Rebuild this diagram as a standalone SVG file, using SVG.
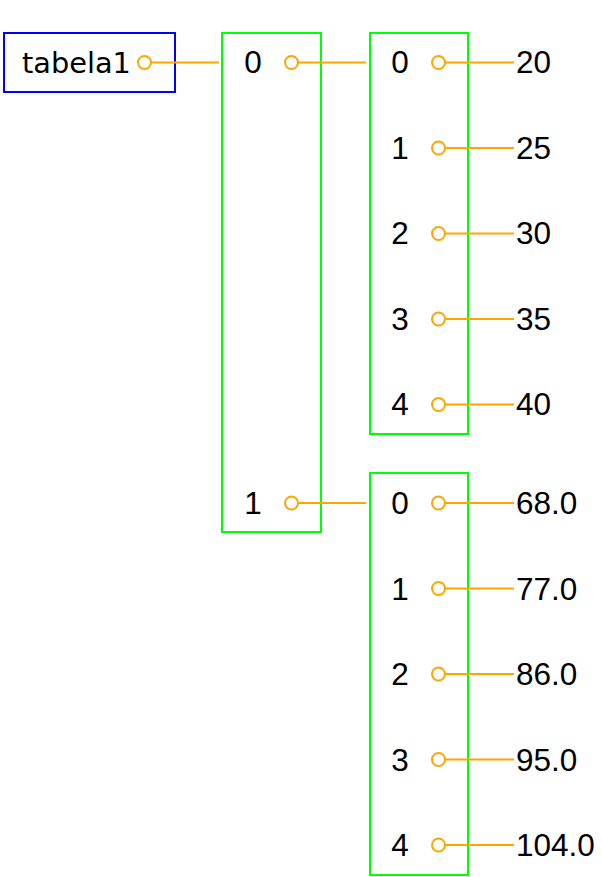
<svg xmlns="http://www.w3.org/2000/svg" width="602" height="877" viewBox="0 0 602 877">
<style>
.box{fill:#fff;stroke:#00ff00;stroke-width:2}
.var{fill:#fff;stroke:#0000ff;stroke-width:2}
.lbl{font-family:"Liberation Sans",Arial,sans-serif;font-size:31.5px;fill:#000}
.idx{text-anchor:middle}
.nm{font-family:"DejaVu Sans",sans-serif;font-size:28.8px;fill:#000}
.port{fill:none;stroke:#ffa500;stroke-width:2}
.edge{stroke:#ffa500;stroke-width:2;fill:none}
</style>
<rect width="602" height="877" fill="#fff"/>
<g id="tabela1">
<rect class="var" x="4" y="33" width="171" height="59"/>
<text class="nm" x="22" y="73">tabela1</text>
</g>
<g id="outer">
<rect class="box" x="222" y="33" width="99" height="499"/>
<text class="lbl idx" x="253" y="73">0</text>
<text class="lbl idx" x="253" y="514">1</text>
</g>
<g id="list1">
<rect class="box" x="370" y="33" width="98" height="401"/>
<text class="lbl idx" x="400" y="73">0</text>
<text class="lbl idx" x="400" y="158.5">1</text>
<text class="lbl idx" x="400" y="244">2</text>
<text class="lbl idx" x="400" y="329.5">3</text>
<text class="lbl idx" x="400" y="415">4</text>
</g>
<g id="list2">
<rect class="box" x="370" y="473" width="98" height="402"/>
<text class="lbl idx" x="400" y="514">0</text>
<text class="lbl idx" x="400" y="599.5">1</text>
<text class="lbl idx" x="400" y="685">2</text>
<text class="lbl idx" x="400" y="770.5">3</text>
<text class="lbl idx" x="400" y="856">4</text>
</g>
<g id="values">
<text class="lbl" x="516" y="73">20</text>
<text class="lbl" x="516" y="158.5">25</text>
<text class="lbl" x="516" y="244">30</text>
<text class="lbl" x="516" y="329.5">35</text>
<text class="lbl" x="516" y="415">40</text>
<text class="lbl" x="516" y="514">68.0</text>
<text class="lbl" x="516" y="599.5">77.0</text>
<text class="lbl" x="516" y="685">86.0</text>
<text class="lbl" x="516" y="770.5">95.0</text>
<text class="lbl" x="516" y="856">104.0</text>
</g>
<g id="connectors">
<circle class="port" cx="144.5" cy="62.5" r="6.5"/>
<line class="edge" x1="151" y1="62.5" x2="219" y2="62.5"/>
<circle class="port" cx="291.5" cy="62.5" r="6.5"/>
<line class="edge" x1="298" y1="62.5" x2="366" y2="62.5"/>
<circle class="port" cx="291.5" cy="503" r="6.5"/>
<line class="edge" x1="298" y1="503" x2="366" y2="503"/>
<circle class="port" cx="438.5" cy="62.5" r="6.5"/>
<line class="edge" x1="445" y1="62.5" x2="514" y2="62.5"/>
<circle class="port" cx="438.5" cy="148" r="6.5"/>
<line class="edge" x1="445" y1="148" x2="514" y2="148"/>
<circle class="port" cx="438.5" cy="233.5" r="6.5"/>
<line class="edge" x1="445" y1="233.5" x2="514" y2="233.5"/>
<circle class="port" cx="438.5" cy="319" r="6.5"/>
<line class="edge" x1="445" y1="319" x2="514" y2="319"/>
<circle class="port" cx="438.5" cy="404.5" r="6.5"/>
<line class="edge" x1="445" y1="404.5" x2="514" y2="404.5"/>
<circle class="port" cx="438.5" cy="503" r="6.5"/>
<line class="edge" x1="445" y1="503" x2="514" y2="503"/>
<circle class="port" cx="438.5" cy="588.5" r="6.5"/>
<line class="edge" x1="445" y1="588.5" x2="514" y2="588.5"/>
<circle class="port" cx="438.5" cy="674" r="6.5"/>
<line class="edge" x1="445" y1="674" x2="514" y2="674"/>
<circle class="port" cx="438.5" cy="759.5" r="6.5"/>
<line class="edge" x1="445" y1="759.5" x2="514" y2="759.5"/>
<circle class="port" cx="438.5" cy="845" r="6.5"/>
<line class="edge" x1="445" y1="845" x2="514" y2="845"/>
</g>
</svg>
